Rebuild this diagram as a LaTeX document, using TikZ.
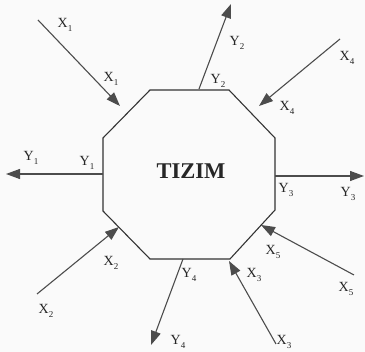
\documentclass[tikz,border=0pt]{standalone}
\usepackage{fontspec}
\setmainfont{Liberation Serif}
\usetikzlibrary{arrows.meta}
\newcommand\sublab[2]{#1\kern0.3pt\raisebox{-0.3em}{\fontsize{9}{10}\selectfont #2}}
\tikzset{
  edge/.style={draw=black!80, line width=1.1pt},
  flow/.style={draw=black!70, line width=1.1pt, -{Triangle[length=14pt,width=10pt]}},
  lab/.style={inner sep=0pt, font=\fontsize{14}{16}\selectfont, text=black!85},
}
\begin{document}
\begin{tikzpicture}[x=1pt,y=-1pt]
\useasboundingbox (0,0) rectangle (365,352);
\fill[black!2] (0,0) rectangle (365,352);
% octagon vertices
\coordinate (a) at (150,90);
\coordinate (b) at (229,90);
\coordinate (c) at (275,138);
\coordinate (d) at (275,210);
\coordinate (e) at (230,259);
\coordinate (f) at (150,259);
\coordinate (g) at (103,211);
\coordinate (h) at (103,138);
\draw[edge] (a) -- (b) -- (c) -- (d) -- (e) -- (f) -- (g) -- (h) -- cycle;
\node[font=\fontsize{22.5}{25}\selectfont\bfseries, text=black!85] (sys) at (191,171) {TIZIM};
% connector end points
\coordinate (x1s) at (38,20);   \coordinate (x1e) at (120,106);
\coordinate (y1s) at (103,174); \coordinate (y1e) at (6,174);
\coordinate (y2s) at (199,89);  \coordinate (y2e) at (231,4);
\coordinate (x4s) at (340,39);  \coordinate (x4e) at (259,106);
\coordinate (y3s) at (275,176); \coordinate (y3e) at (364,176);
\coordinate (x5s) at (354,275); \coordinate (x5e) at (261,225);
\coordinate (x3s) at (276,344); \coordinate (x3e) at (229,261);
\coordinate (y4s) at (183,259); \coordinate (y4e) at (151,345);
\coordinate (x2s) at (37,294);  \coordinate (x2e) at (119,227);
\draw[flow] (x1s) -- (x1e);
\draw[flow] (y1s) -- (y1e);
\draw[flow] (y2s) -- (y2e);
\draw[flow] (x4s) -- (x4e);
\draw[flow] (y3s) -- (y3e);
\draw[flow] (x5s) -- (x5e);
\draw[flow] (x3s) -- (x3e);
\draw[flow] (y4s) -- (y4e);
\draw[flow] (x2s) -- (x2e);
% labels
\node[lab] (lx1a) at (65,25) {\sublab{X}{1}};
\node[lab] (lx1b) at (111,79) {\sublab{X}{1}};
\node[lab] (ly1a) at (31,158) {\sublab{Y}{1}};
\node[lab] (ly1b) at (87,163) {\sublab{Y}{1}};
\node[lab] (ly2a) at (237,43) {\sublab{Y}{2}};
\node[lab] (ly2b) at (218,81) {\sublab{Y}{2}};
\node[lab] (lx4a) at (347,58) {\sublab{X}{4}};
\node[lab] (lx4b) at (287,108) {\sublab{X}{4}};
\node[lab] (ly3a) at (286,190) {\sublab{Y}{3}};
\node[lab] (ly3b) at (348,194) {\sublab{Y}{3}};
\node[lab] (lx5a) at (273,252) {\sublab{X}{5}};
\node[lab] (lx5b) at (346,289) {\sublab{X}{5}};
\node[lab] (lx3a) at (254,275) {\sublab{X}{3}};
\node[lab] (lx3b) at (284,342) {\sublab{X}{3}};
\node[lab] (ly4a) at (189,275) {\sublab{Y}{4}};
\node[lab] (ly4b) at (178,342) {\sublab{Y}{4}};
\node[lab] (lx2a) at (111,263) {\sublab{X}{2}};
\node[lab] (lx2b) at (46,311) {\sublab{X}{2}};
\end{tikzpicture}
\end{document}
